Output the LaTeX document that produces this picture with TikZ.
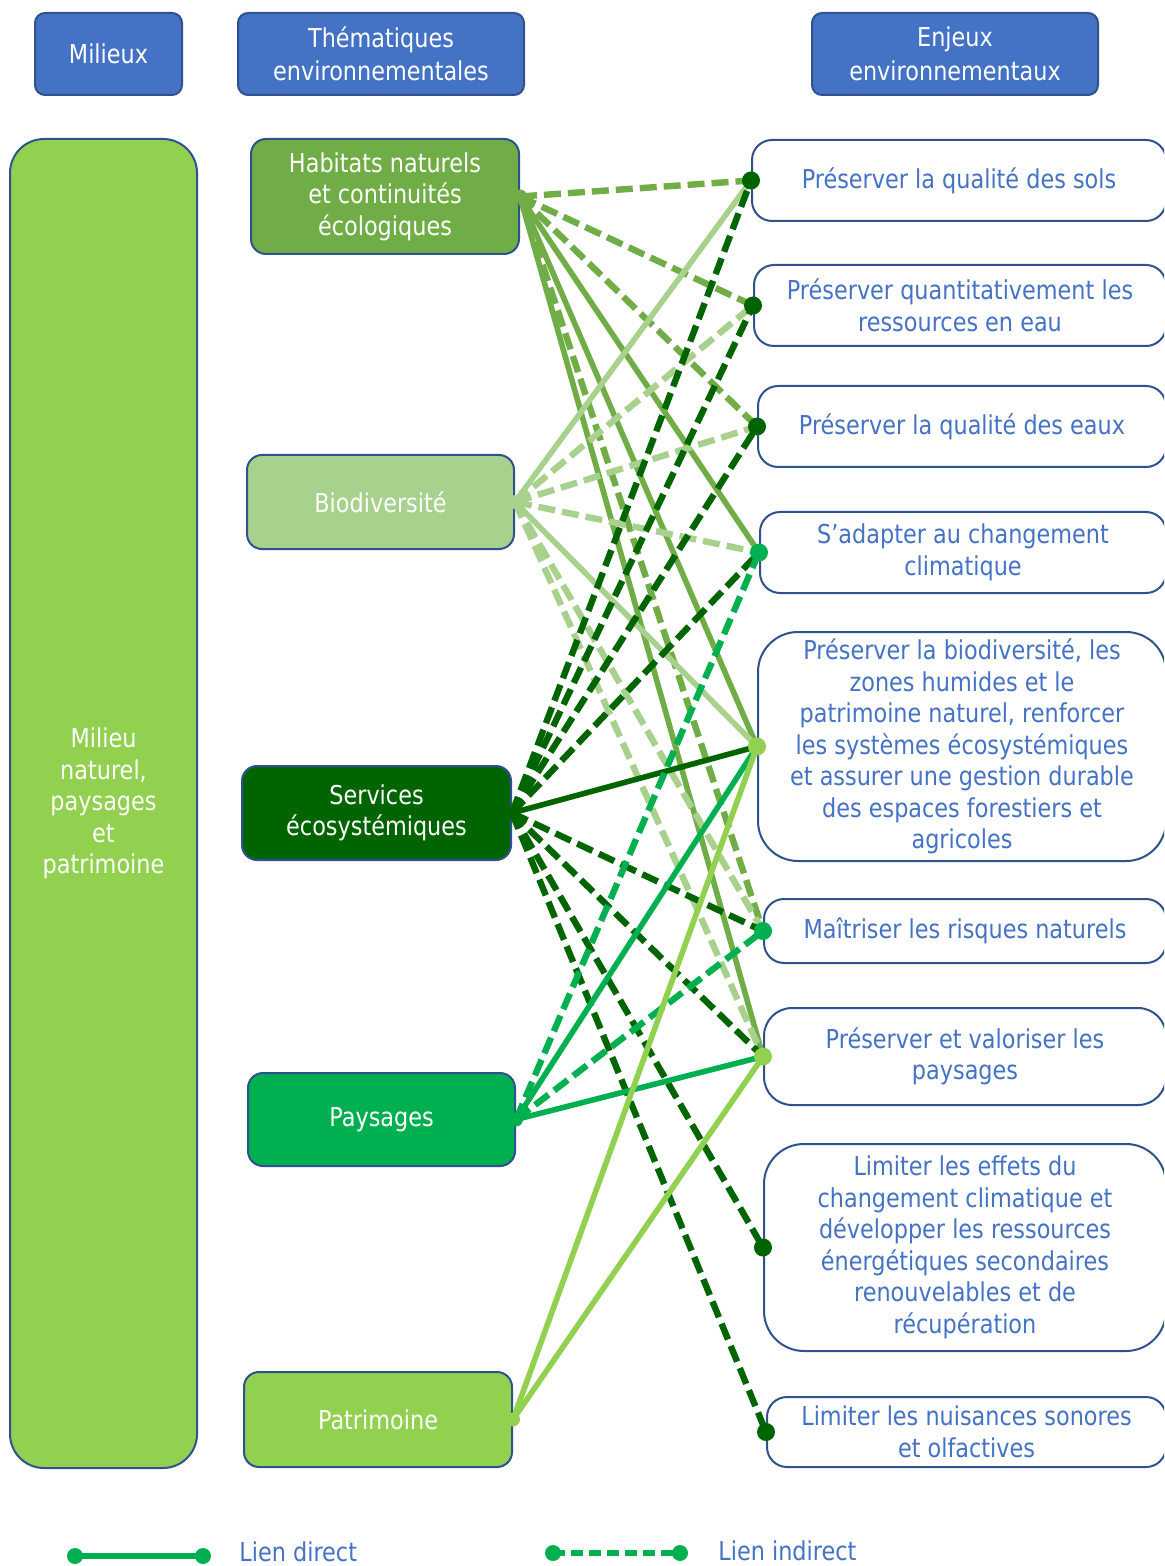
\documentclass[tikz,border=0pt]{standalone}
\usepackage{fontspec}
\setmainfont{DejaVu Sans}[FakeStretch=0.86]
\definecolor{hdrblue}{HTML}{4472C4}
\definecolor{bord}{HTML}{2F528F}
\definecolor{txtblue}{HTML}{4472C4}
\definecolor{cH}{HTML}{70AD47}
\definecolor{cB}{HTML}{A9D18E}
\definecolor{cS}{HTML}{006400}
\definecolor{cP}{HTML}{00B050}
\definecolor{cPa}{HTML}{92D050}
\newcommand\myfs{\fontsize{13}{15.75}\selectfont}
\tikzset{
  hdr/.style={draw=bord, fill=hdrblue, line width=1pt, rounded corners=5pt, text=white, align=center, inner sep=0pt, font=\myfs},
  theme/.style={draw=bord, line width=1pt, rounded corners=7.5pt, text=white, align=center, inner sep=0pt, font=\myfs},
  enj/.style={draw=bord, fill=white, line width=1pt, rounded corners=10pt, text=txtblue, align=center, inner sep=0pt, font=\myfs},
  direct/.style={line width=2.8pt},
  indirect/.style={line width=3.2pt, dash pattern=on 8.5pt off 3.5pt},
  legtxt/.style={text=txtblue, font=\myfs, inner sep=0pt, anchor=base west}
}
\begin{document}
\begin{tikzpicture}[x=0.5pt,y=-0.5pt]
\clip (0,0) rectangle (1164,1566);
\fill[white] (0,0) rectangle (1164,1566);

% headers
\node[hdr, minimum width=73.5pt, minimum height=41pt] (M1) at (108.5,54) {Milieux};
\node[hdr, minimum width=143pt, minimum height=41pt] (M2) at (381,54) {Thématiques\\[1pt]environnementales};
\node[hdr, minimum width=143pt, minimum height=41pt] (M3) at (955,54) {Enjeux\\[1pt]environnementaux};

% left column
\node[theme, fill=cPa, rounded corners=17pt, minimum width=93.5pt, minimum height=664.5pt] (L) at (103.5,803.5) {Milieu\\naturel,\\paysages\\et\\patrimoine};

% themes
\node[theme, fill=cH, minimum width=134pt, minimum height=57.5pt] (H) at (385,196.5) {Habitats naturels\\et continuités\\écologiques};
\node[theme, fill=cB, minimum width=133.5pt, minimum height=47pt] (B) at (380.5,502) {Biodiversité};
\node[theme, fill=cS, minimum width=134.5pt, minimum height=47pt] (S) at (376.5,813) {Services\\écosystémiques};
\node[theme, fill=cP, minimum width=133.5pt, minimum height=46.5pt] (P) at (381.5,1119.5) {Paysages};
\node[theme, fill=cPa, minimum width=134pt, minimum height=47.5pt] (Pa) at (378,1419.5) {Patrimoine};

% enjeux
\node[enj, minimum width=207pt, minimum height=40.5pt] (E1) at (959,180.5) {Préserver la qualité des sols};
\node[enj, minimum width=206pt, minimum height=40.5pt] (E2) at (960,305.5) {Préserver quantitativement les\\ressources en eau};
\node[enj, minimum width=204pt, minimum height=40.5pt] (E3) at (962,426.5) {Préserver la qualité des eaux};
\node[enj, minimum width=203pt, minimum height=40.5pt] (E4) at (963,552.5) {S’adapter au changement\\climatique};
\node[enj, rounded corners=20pt, minimum width=204pt, minimum height=114.5pt] (E5) at (962,746.5) {Préserver la biodiversité, les\\zones humides et le\\patrimoine naturel, renforcer\\les systèmes écosystémiques\\et assurer une gestion durable\\des espaces forestiers et\\agricoles};
\node[enj, minimum width=201pt, minimum height=32pt] (E6) at (965,931) {Maîtriser les risques naturels};
\node[enj, rounded corners=14pt, minimum width=201pt, minimum height=48.5pt] (E7) at (965,1056.5) {Préserver et valoriser les\\paysages};
\node[enj, rounded corners=20pt, minimum width=201pt, minimum height=103.5pt] (E8) at (965,1247.5) {Limiter les effets du\\changement climatique et\\développer les ressources\\énergétiques secondaires\\renouvelables et de\\récupération};
\node[enj, minimum width=199.5pt, minimum height=35pt] (E9) at (966.5,1432) {Limiter les nuisances sonores\\et olfactives};

% Habitats
\draw[cH, indirect] (H.east) -- (E1.west);
\draw[cH, indirect] (H.east) -- (E2.west);
\draw[cH, indirect] (H.east) -- (E3.west);
\draw[cH, direct] (H.east) -- (E4.west);
\draw[cH, direct] (H.east) -- (E5.west);
\draw[cH, indirect] (H.east) -- (E6.west);
\draw[cH, direct] (H.east) -- (E7.west);
% Biodiversite
\draw[cB, direct] (B.east) -- (E1.west);
\draw[cB, indirect] (B.east) -- (E2.west);
\draw[cB, indirect] (B.east) -- (E3.west);
\draw[cB, indirect] (B.east) -- (E4.west);
\draw[cB, direct] (B.east) -- (E5.west);
\draw[cB, indirect] (B.east) -- (E6.west);
\draw[cB, indirect] (B.east) -- (E7.west);
% Services
\draw[cS, indirect] (S.east) -- (E1.west);
\draw[cS, indirect] (S.east) -- (E2.west);
\draw[cS, indirect] (S.east) -- (E3.west);
\draw[cS, indirect] (S.east) -- (E4.west);
\draw[cS, direct] (S.east) -- (E5.west);
\draw[cS, indirect] (S.east) -- (E6.west);
\draw[cS, indirect] (S.east) -- (E7.west);
\draw[cS, indirect] (S.east) -- (E8.west);
\draw[cS, indirect] (S.east) -- (E9.west);
% Paysages
\draw[cP, indirect] (P.east) -- (E4.west);
\draw[cP, direct] (P.east) -- (E5.west);
\draw[cP, indirect] (P.east) -- (E6.west);
\draw[cP, direct] (P.east) -- (E7.west);
% Patrimoine
\draw[cPa, direct] (Pa.east) -- (E5.west);
\draw[cPa, direct] (Pa.east) -- (E7.west);

% origin dots
\fill[cH] (H.east) circle (3.5pt);
\fill[cB] (B.east) circle (3.5pt);
\fill[cS] (S.east) circle (3.5pt);
\fill[cP] (P.east) circle (3.5pt);
\fill[cPa] (Pa.east) circle (3.5pt);

% end dots
\fill[cS] (E1.west) circle (4.5pt);
\fill[cS] (E2.west) circle (4.5pt);
\fill[cS] (E3.west) circle (4.5pt);
\fill[cP] (E4.west) circle (4.5pt);
\fill[cPa] (E5.west) circle (4.5pt);
\fill[cP] (E6.west) circle (4.5pt);
\fill[cPa] (E7.west) circle (4.5pt);
\fill[cS] (E8.west) circle (4.5pt);
\fill[cS] (E9.west) circle (4.5pt);

% legend
\coordinate (la) at (75,1556);
\coordinate (lb) at (203,1556);
\coordinate (lc) at (553,1553);
\coordinate (ld) at (680,1553);
\draw[cP, direct] (la) -- (lb);
\fill[cP] (la) circle (4pt);
\fill[cP] (lb) circle (4pt);
\draw[cP, line width=3pt, dash pattern=on 6pt off 3pt] (lc) -- (ld);
\fill[cP] (lc) circle (4pt);
\fill[cP] (ld) circle (4pt);
\node[legtxt] (t1) at (239,1561) {Lien direct};
\node[legtxt] (t2) at (718,1560) {Lien indirect};
\end{tikzpicture}
\end{document}
